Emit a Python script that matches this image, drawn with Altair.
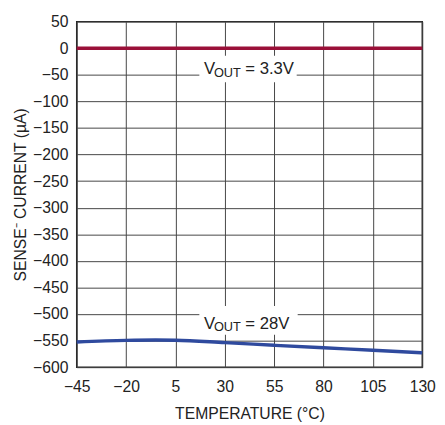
import altair as alt
import pandas as pd

FONT = "Liberation Sans"

# data
temp_28 = [-45, -20, -5, 5, 30, 55, 80, 105, 130]
curr_28 = [-552.5, -549.6, -549.0, -549.3, -553.8, -558.8, -563.6, -568.0, -572.8]
temp_33 = [-45, 130]
curr_33 = [0, 0]

x_ticks = [-45, -20, 5, 30, 55, 80, 105, 130]
y_ticks = list(range(-600, 51, 50))

lab_x = [19.5, 19.5]
lab_y = [-40, -518]
lab_val = ["= 3.3V", "= 28V"]
box_x1 = [17.1, 17.1]
box_x2 = [66.4, 66.9]
box_y1 = [-14, -485]
box_y2 = [-64, -539]

df28 = pd.DataFrame({"t": temp_28, "i": curr_28})
df33 = pd.DataFrame({"t": temp_33, "i": curr_33})
labels = pd.DataFrame({"t": lab_x, "i": lab_y, "v": lab_val,
                       "x1": box_x1, "x2": box_x2, "y1": box_y1, "y2": box_y2})

xs = alt.Scale(domain=[-45, 130], nice=False, zero=False)
ys = alt.Scale(domain=[-600, 50], nice=False, zero=False)

xax = alt.Axis(values=x_ticks, title="TEMPERATURE (°C)", grid=True, ticks=False,
               domain=False, labelPadding=12, titleY=52, titleBaseline="alphabetic",
               labelOverlap=False, labelFlush=False, labelBound=False)
yax = alt.Axis(values=y_ticks, title="SENSE⁻ CURRENT (µA)", grid=True, ticks=False,
               domain=False, labelPadding=9, titleX=-52, titleBaseline="alphabetic",
               labelOverlap=False, labelFlush=False, labelBound=False)

base_x = alt.X("t:Q", scale=xs, axis=xax)
base_y = alt.Y("i:Q", scale=ys, axis=yax)

boxes = alt.Chart(labels).mark_rect(color="white").encode(
    x=alt.X("x1:Q", scale=xs, axis=xax), x2="x2:Q",
    y=alt.Y("y1:Q", scale=ys, axis=yax), y2="y2:Q")

line33 = alt.Chart(df33).mark_line(color="#9a1038", strokeWidth=3.5).encode(x=base_x, y=base_y)
line28 = alt.Chart(df28).mark_line(color="#2f4a9e", strokeWidth=3.5, interpolate="monotone").encode(x=base_x, y=base_y)

tV = alt.Chart(labels).mark_text(text="V", align="left", baseline="middle", font=FONT,
                                 fontSize=17, color="#222").encode(x=base_x, y=base_y)
tO = alt.Chart(labels).mark_text(text="OUT", align="left", baseline="middle", font=FONT,
                                 fontSize=13, dx=10, dy=4, color="#222").encode(x=base_x, y=base_y)
tR = alt.Chart(labels).mark_text(align="left", baseline="middle", font=FONT,
                                 fontSize=17, dx=42, color="#222").encode(x=base_x, y=base_y, text="v:N")

chart = alt.layer(boxes, line33, line28, tV, tO, tR).properties(
    width=352, height=352,
    autosize=alt.AutoSizeParams(type="none"),
    padding={"left": 70, "top": 10, "right": 15, "bottom": 55},
).configure_view(stroke="#222", strokeWidth=1.5).configure_axis(
    labelFont=FONT, titleFont=FONT, labelFontSize=16, titleFontSize=16,
    labelColor="#222", titleColor="#222", titleFontWeight="normal",
    gridColor="#444", gridWidth=1, gridOpacity=1,
)

chart.save("out.html", embed_options={"renderer": "svg", "actions": False})
